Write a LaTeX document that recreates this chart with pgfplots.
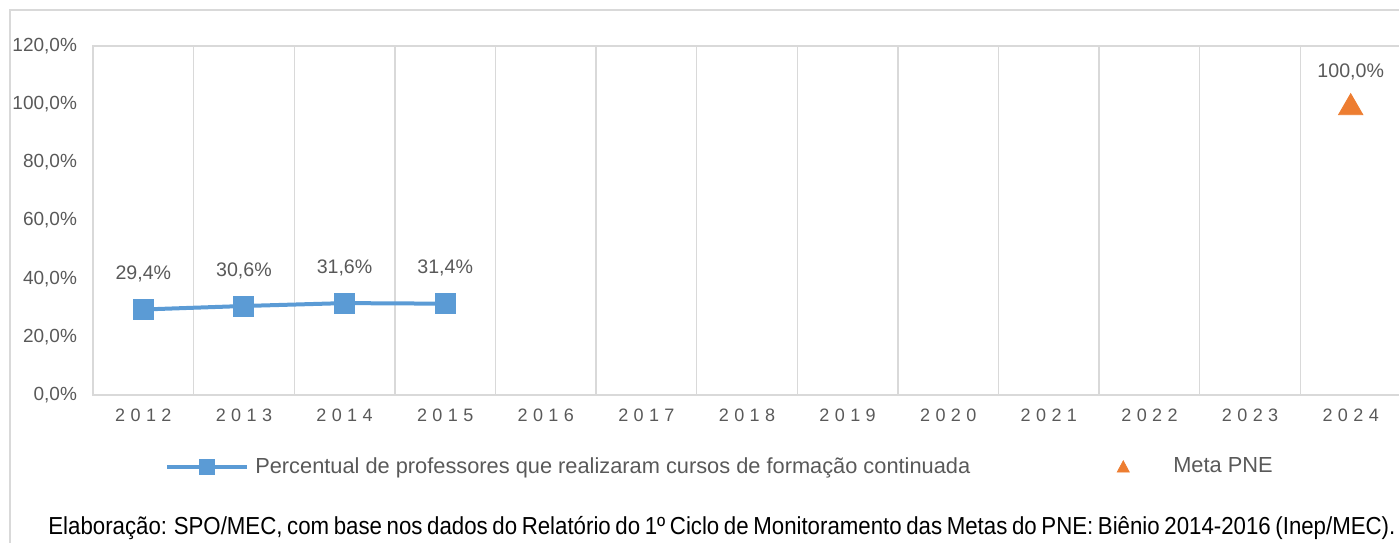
\documentclass[border=0pt]{standalone}
\usepackage{pgfplots}
\pgfplotsset{compat=1.18}
\usepackage{fontspec}
\setmainfont{Liberation Sans}
\newfontfamily\narrowfont[FakeStretch=0.82, WordSpace=0.75]{Liberation Sans}
\definecolor{txt}{HTML}{595959}
\definecolor{gridc}{HTML}{D9D9D9}
\definecolor{serblue}{HTML}{5B9BD5}
\definecolor{serorange}{HTML}{ED7D31}
\begin{document}
\begin{tikzpicture}
\useasboundingbox (0,0) rectangle (699.5pt,271pt);
\draw[gridc, line width=0.7pt] (5pt,-2pt) -- (5pt,266pt) -- (702pt,266pt);
\begin{axis}[
  at={(46.5pt,73.5pt)}, anchor=south west,
  scale only axis, width=654pt, height=174.5pt,
  xmin=-0.5, xmax=12.5, ymin=0, ymax=120,
  xtick={0,...,12},
  xticklabels={2012,2013,2014,2015,2016,2017,2018,2019,2020,2021,2022,2023,2024},
  xticklabel style={font=\fontsize{9pt}{10pt}\selectfont\addfontfeature{LetterSpace=30}, text=txt, yshift=-3.5pt},
  ytick={0,20,...,120},
  yticklabels={{0,0\%},{20,0\%},{40,0\%},{60,0\%},{80,0\%},{100,0\%},{120,0\%}},
  yticklabel style={font=\fontsize{9.5pt}{10pt}\selectfont, text=txt, xshift=-4.5pt},
  major tick length=0pt, minor tick length=0pt,
  minor xtick={0.5,1.5,...,11.5},
  xminorgrids, minor grid style={gridc, line width=0.7pt},
  axis line style={gridc, line width=0.7pt},
  clip=false,
  nodes near coords, point meta=explicit symbolic,
  every node near coord/.append style={font=\fontsize{9.8pt}{10pt}\selectfont, text=txt, anchor=base, yshift=15pt, inner sep=0pt},
  legend style={at={(0.055,-0.206)}, anchor=west, draw=none, fill=none, inner sep=0pt,
    font=\fontsize{10.9pt}{12pt}\selectfont, text=txt,
    /tikz/every odd column/.style={column sep=1pt},
    /tikz/every even column/.style={column sep=54.5pt}},
  legend columns=2,
]
\addplot[serblue, line width=2pt, mark=square*, mark size=4.25pt,
  legend image code/.code={\draw[serblue, line width=2pt] (0pt,0pt) -- (40pt,0pt);
    \fill[serblue] (17pt,-3pt) rectangle (23pt,3pt);}]
  coordinates {(0,29.4) [29,4\%] (1,30.6) [30,6\%] (2,31.6) [31,6\%] (3,31.4) [31,4\%]};
\addlegendentry{Percentual de professores que realizaram cursos de formação continuada}
\addplot[serorange, only marks, mark=triangle*, mark size=7pt, mark options={yshift=-1.75pt},
  legend image code/.code={\path[draw=none, fill=none] (0pt,0pt) -- (42pt,0pt);
    \fill[serorange] (17pt,-2.6pt) -- (23pt,-2.6pt) -- (20pt,3pt) -- cycle;}]
  coordinates {(12,100) [100,0\%]};
\addlegendentry{Meta PNE}
\end{axis}
\node[anchor=base west, inner sep=0pt] at (24pt,3.9pt) {\resizebox{673.5pt}{\height}{\narrowfont\fontsize{12.3pt}{14pt}\selectfont Elaboração: SPO/MEC, com base nos dados do Relatório do 1º Ciclo de Monitoramento das Metas do PNE: Biênio 2014-2016 (Inep/MEC).}};
\end{tikzpicture}
\end{document}
